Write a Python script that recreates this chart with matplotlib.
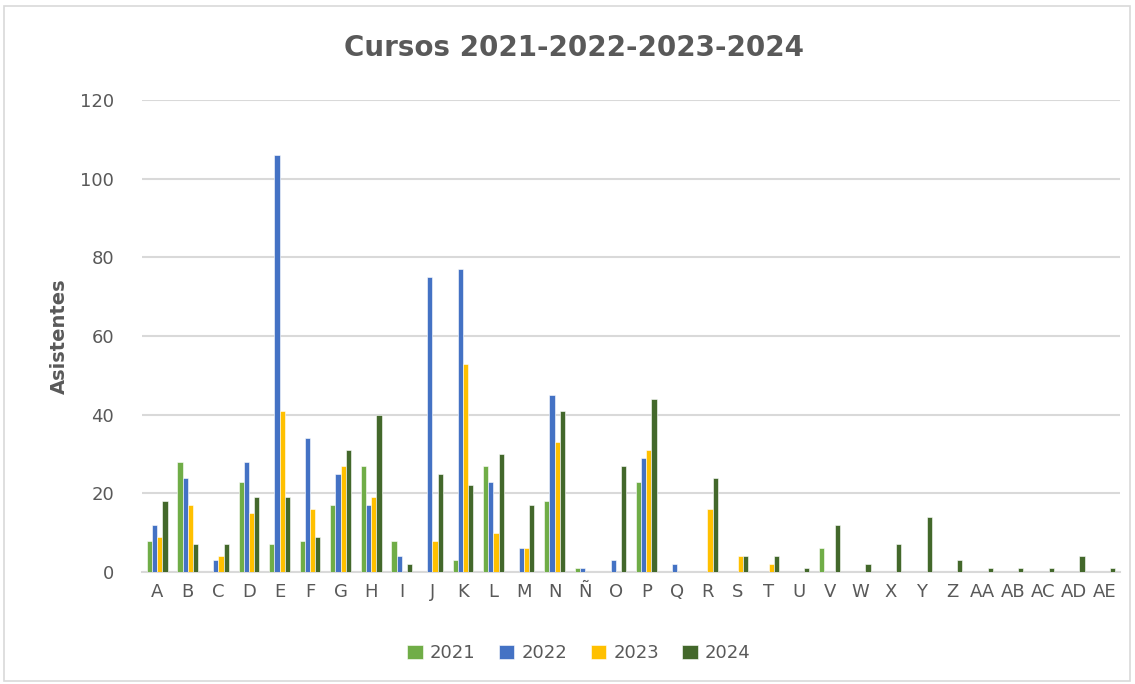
import matplotlib
matplotlib.use("Agg")
import matplotlib.pyplot as plt
import numpy as np
from matplotlib.patches import Rectangle

categories = ["A", "B", "C", "D", "E", "F", "G", "H", "I", "J", "K", "L", "M", "N", "Ñ",
              "O", "P", "Q", "R", "S", "T", "U", "V", "W", "X", "Y", "Z", "AA", "AB",
              "AC", "AD", "AE"]
s2021 = [8, 28, 0, 23, 7, 8, 17, 27, 8, 0, 3, 27, 0, 18, 1, 0, 23, 0, 0, 0, 0, 0, 6, 0, 0, 0, 0, 0, 0, 0, 0, 0]
s2022 = [12, 24, 3, 28, 106, 34, 25, 17, 4, 75, 77, 23, 6, 45, 1, 3, 29, 2, 0, 0, 0, 0, 0, 0, 0, 0, 0, 0, 0, 0, 0, 0]
s2023 = [9, 17, 4, 15, 41, 16, 27, 19, 0, 8, 53, 10, 6, 33, 0, 0, 31, 0, 16, 4, 2, 0, 0, 0, 0, 0, 0, 0, 0, 0, 0, 0]
s2024 = [18, 7, 7, 19, 19, 9, 31, 40, 2, 25, 22, 30, 17, 41, 0, 27, 44, 0, 24, 4, 4, 1, 12, 2, 7, 14, 3, 1, 1, 1, 4, 1]
series_names = ["2021", "2022", "2023", "2024"]
colors = ["#70AD47", "#4472C4", "#FFC000", "#43682B"]

n = len(categories)
data = [s2021, s2022, s2023, s2024]

fig = plt.figure(figsize=(11.35, 6.84), dpi=100)
ax = fig.add_axes([142/1135, (684-572)/684, (1120-142)/1135, (572-100)/684])

x = np.arange(n)
w = 0.17
for i, (vals, name, c) in enumerate(zip(data, series_names, colors)):
    ax.bar(x + (i - 1.5) * w, vals, width=w, color=c, label=name,
           edgecolor="white", linewidth=0.4, zorder=3)

ax.set_ylim(0, 120)
ax.set_yticks(range(0, 121, 20))
ax.set_xlim(-0.5, n - 0.5)
ax.set_xticks(x)
ax.set_xticklabels(categories)
ax.grid(axis="y", color="#D9D9D9", linewidth=1.5, zorder=0)
for s in ["top", "right", "left"]:
    ax.spines[s].set_visible(False)
ax.spines["bottom"].set_color("#D9D9D9")
ax.spines["bottom"].set_linewidth(1.5)
ax.tick_params(axis="both", length=0, colors="#595959", labelsize=13, pad=8)
ax.tick_params(axis="y", pad=20)

ax.set_ylabel("Asistentes", fontsize=14, fontweight="bold", color="#595959", labelpad=8)

fig.text(0.506, 0.93, "Cursos 2021-2022-2023-2024", ha="center", va="center",
         fontsize=20, fontweight="bold", color="#595959")

ax.legend(loc="center", bbox_to_anchor=(579/1135, (684-653)/684), bbox_transform=fig.transFigure,
          ncol=4, frameon=False, fontsize=13, labelcolor="#595959",
          handlelength=0.85, handleheight=0.85, handletextpad=0.4, columnspacing=1.3)

fig.patches.append(Rectangle((4/1135, 3/684), 1126/1135, 675/684, transform=fig.transFigure,
                             fill=False, edgecolor="#D9D9D9", linewidth=1.2))

fig.savefig("out.png", dpi=100, facecolor="white")
